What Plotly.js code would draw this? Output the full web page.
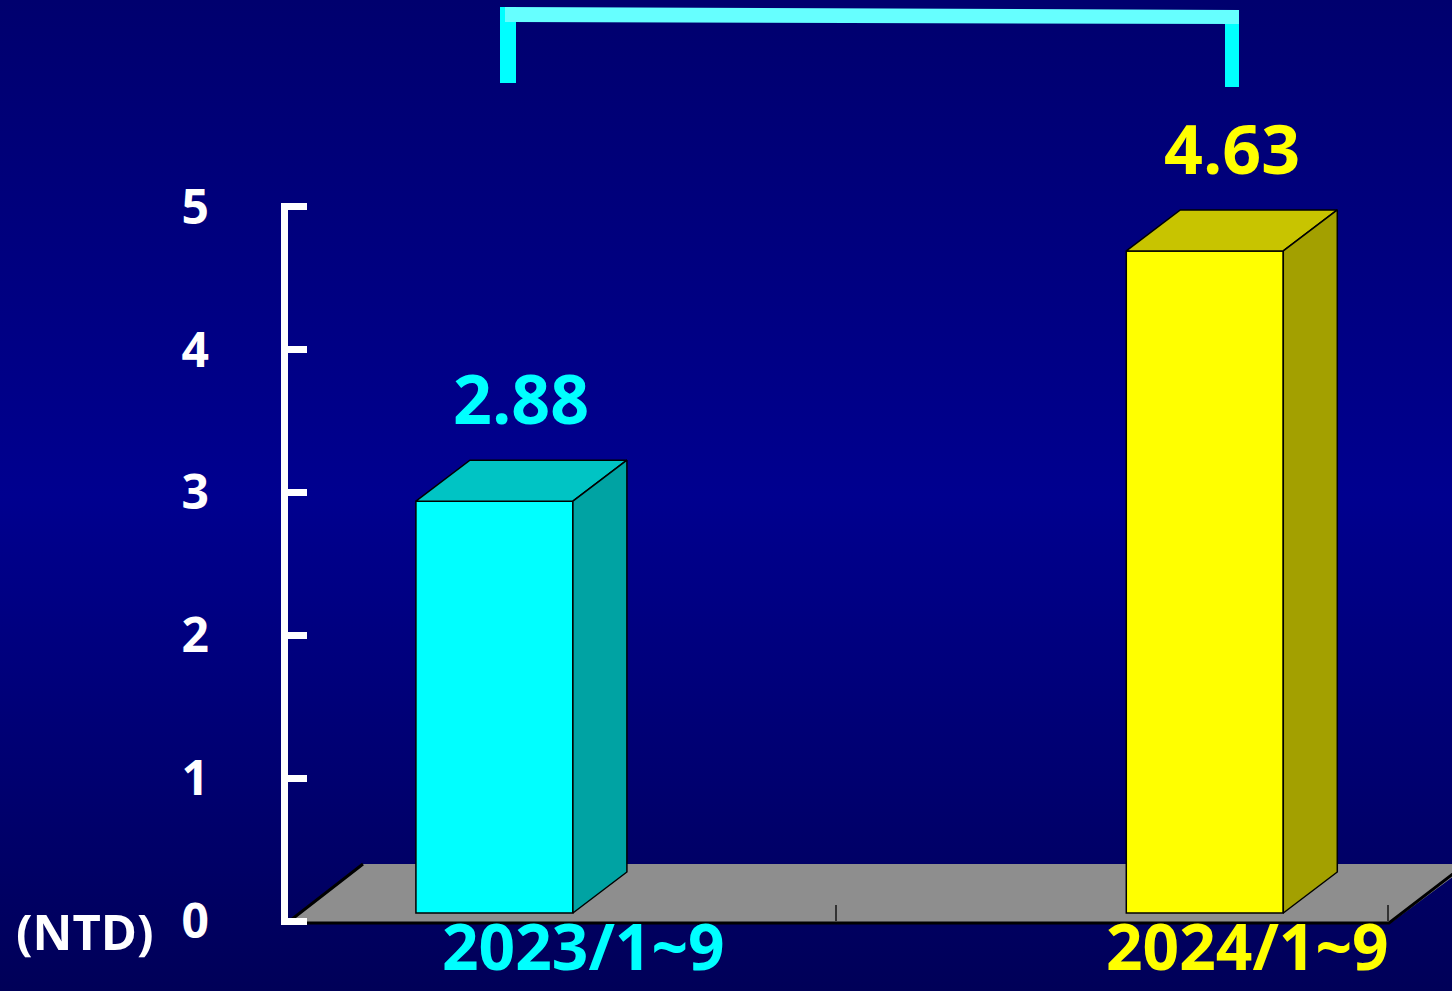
<!DOCTYPE html>
<html>
<head>
<meta charset="utf-8">
<script src="https://cdn.plot.ly/plotly-3.0.1.min.js"></script>
<style>
  html, body { margin: 0; padding: 0; width: 1452px; height: 991px; overflow: hidden;
    background: linear-gradient(to bottom, #00006E 0%, #00008F 50%, #000058 100%); }
  #chart { width: 1452px; height: 991px; }
</style>
</head>
<body>
<div id="chart"></div>
<script>
// ---- data ----
const categories = ["2023/1~9", "2024/1~9"];
const values = [2.88, 4.63];
const valueLabels = ["2.88", "4.63"];
const yTicks = [0, 1, 2, 3, 4, 5];
const unitLabel = "(NTD)";

// ---- styles ----
const frontColors = ["#00FFFF", "#FFFF00"];
const topColors = ["#00C4C4", "#C8C400"];
const sideColors = ["#00A3A3", "#A3A000"];
const labelColors = ["#00FFFF", "#FFFF00"];
const FONT = "'Open Sans', 'DejaVu Sans', sans-serif";

const W = 1452, H = 991;
const xr = [-0.696, 1.348];
const yr = [-0.5455, 6.3846];
const pxX = (xr[1] - xr[0]) / W;   // data units per px
const pxY = (yr[1] - yr[0]) / H;
const X = px => xr[0] + px * pxX;
const Y = py => yr[0] + (H - py) * pxY;
const PX = px => px / W;
const PY = py => 1 - py / H;

const barW = 0.221;
const dX = 54 * pxX;   // depth offset
const dY = 41 * pxY;

const traces = [];
traces.push({
  type: 'bar', x: categories.map((c, i) => i), y: values, width: barW,
  marker: { color: frontColors, line: { color: '#000', width: 1.5 } },
  hoverinfo: 'skip', showlegend: false
});
values.forEach((v, i) => {
  const l = i - barW / 2, r = i + barW / 2;
  traces.push({
    type: 'scatter', mode: 'lines', fill: 'toself', fillcolor: topColors[i],
    x: [l, l + dX, r + dX, r, l], y: [v, v + dY, v + dY, v, v],
    line: { color: '#000', width: 1.5 }, hoverinfo: 'skip', showlegend: false
  });
  traces.push({
    type: 'scatter', mode: 'lines', fill: 'toself', fillcolor: sideColors[i],
    x: [r, r + dX, r + dX, r, r], y: [v, v + dY, dY, 0, v],
    line: { color: '#000', width: 1.5 }, hoverinfo: 'skip', showlegend: false
  });
});
// anchor trace for the visible value axis
traces.push({ type: 'scatter', mode: 'markers', x: [0], y: [0], yaxis: 'y2',
  marker: { opacity: 0 }, hoverinfo: 'skip', showlegend: false });

const path = pts => 'M' + pts.map(p => p[0] + ',' + p[1]).join(' L') + ' Z';
const openPath = pts => 'M' + pts.map(p => p[0] + ',' + p[1]).join(' L');

const shapes = [];
// floor
shapes.push({ type: 'path', xref: 'x', yref: 'y', layer: 'below',
  path: path([[X(287), Y(922)], [X(363), Y(864)], [X(1470), Y(864)], [X(1392), Y(922)]]),
  fillcolor: '#8E8E8E', line: { width: 0 } });
shapes.push({ type: 'path', xref: 'x', yref: 'y', layer: 'below',
  path: openPath([[X(363), Y(864)], [X(287), Y(923)], [X(1389), Y(923)], [X(1466), Y(864)]]),
  line: { color: '#000', width: 3 } });
[284, 836, 1388].forEach(px => shapes.push({ type: 'line', xref: 'x', yref: 'y', layer: 'below',
  x0: X(px), x1: X(px), y0: Y(905), y1: Y(921), line: { color: '#333', width: 2 } }));
// bracket
shapes.push({ type: 'rect', xref: 'paper', yref: 'paper', x0: PX(500), x1: PX(516), y0: PY(7), y1: PY(83),
  fillcolor: '#00FFFF', line: { width: 0 } });
shapes.push({ type: 'rect', xref: 'paper', yref: 'paper', x0: PX(1225), x1: PX(1239), y0: PY(10), y1: PY(87),
  fillcolor: '#00FFFF', line: { width: 0 } });
shapes.push({ type: 'path', xref: 'paper', yref: 'paper',
  path: path([[PX(505), PY(7)], [PX(1239), PY(10)], [PX(1239), PY(24)], [PX(505), PY(22)]]),
  fillcolor: '#66FFFF', line: { width: 0 } });

const annotations = [];
values.forEach((v, i) => annotations.push({
  xref: 'x', yref: 'y', x: i + dX / 2, y: v + dY, yanchor: 'bottom', yshift: 14,
  text: '<b>' + valueLabels[i] + '</b>', showarrow: false,
  font: { family: FONT, size: 68, color: labelColors[i] }
}));
const xLabelShift = [0.125, 0.06];
categories.forEach((c, i) => annotations.push({
  xref: 'x', yref: 'paper', x: i + xLabelShift[i], y: 0, yanchor: 'bottom',
  text: '<b>' + c + '</b>', showarrow: false,
  font: { family: FONT, size: 64, color: labelColors[i] }
}));
annotations.push({ xref: 'paper', yref: 'paper', x: PX(85), y: PY(931),
  xanchor: 'center', yanchor: 'middle', text: '<b>' + unitLabel + '</b>', showarrow: false,
  font: { family: FONT, size: 49, color: '#FFFFFF' } });

const yPad = 0.03;
const layout = {
  width: W, height: H, margin: { l: 0, r: 0, t: 0, b: 0 },
  paper_bgcolor: 'rgba(0,0,0,0)', plot_bgcolor: 'rgba(0,0,0,0)',
  showlegend: false,
  xaxis: { range: xr, visible: false, domain: [0, 1], fixedrange: true },
  yaxis: { range: yr, visible: false, domain: [0, 1], fixedrange: true },
  yaxis2: {
    range: [-yPad, 5 + yPad], domain: [PY(921 + yPad * 143), PY(207 - yPad * 143)],
    anchor: 'free', position: PX(283.5),
    showline: true, linecolor: '#FFFFFF', linewidth: 7,
    ticks: 'inside', ticklen: 19, tickwidth: 7, tickcolor: '#FFFFFF',
    tickvals: yTicks, ticktext: yTicks.map(t => '<b>' + t + '</b>'),
    tickfont: { family: FONT, size: 48, color: '#FFFFFF' },
    ticklabelstandoff: 62,
    showgrid: false, zeroline: false, fixedrange: true
  },
  shapes: shapes, annotations: annotations
};

Plotly.newPlot('chart', traces, layout, { displayModeBar: false, staticPlot: true });
</script>
</body>
</html>
